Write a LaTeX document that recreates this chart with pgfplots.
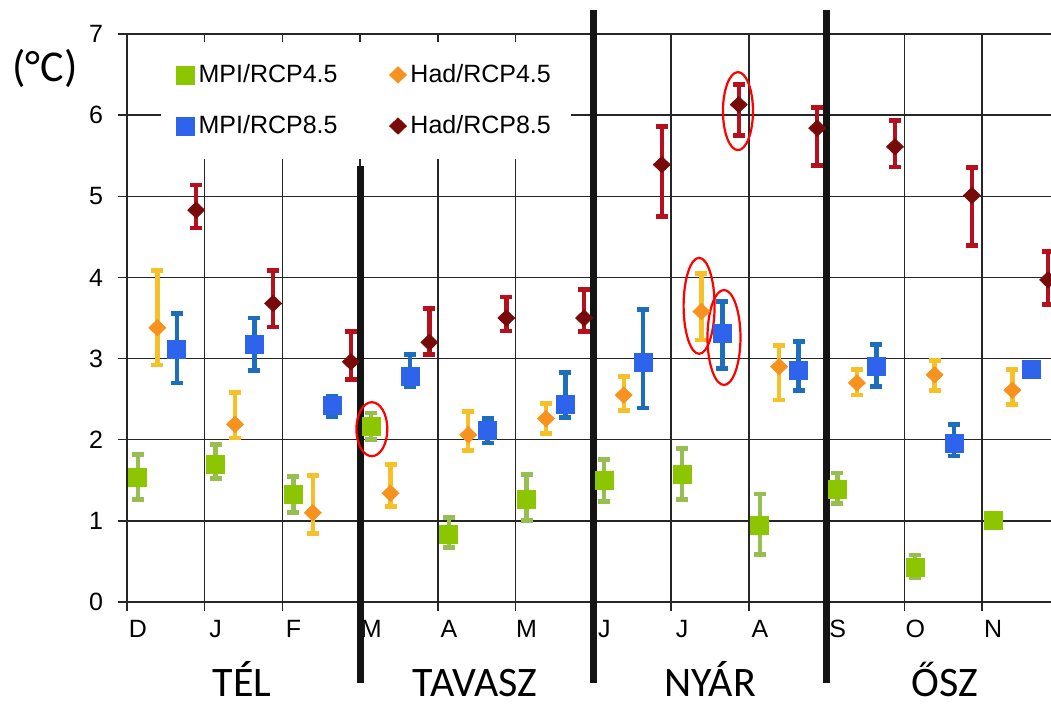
\documentclass[border=0pt]{standalone}
\usepackage{fontspec}
\setmainfont{Liberation Sans}
\newfontfamily\calibri{Carlito}
\usepackage{pgfplots}
\usepackage{pgfplotstable}
\pgfplotsset{compat=1.18}
\usetikzlibrary{calc}

\definecolor{mpiA}{RGB}{140,198,0}
\definecolor{mpiAerr}{RGB}{150,190,80}
\definecolor{hadA}{RGB}{247,146,30}
\definecolor{hadAerr}{RGB}{245,192,40}
\definecolor{mpiB}{RGB}{45,100,235}
\definecolor{mpiBerr}{RGB}{30,110,190}
\definecolor{hadB}{RGB}{120,10,10}
\definecolor{hadBerr}{RGB}{180,16,30}

% month index + offset, value, error up, error down
\pgfplotstableread{
x     y    ep   em
0.14  1.53 0.29 0.27
1.14  1.70 0.24 0.18
2.14  1.32 0.23 0.22
3.14  2.16 0.17 0.16
4.14  0.83 0.21 0.16
5.14  1.27 0.30 0.27
6.14  1.50 0.26 0.26
7.14  1.57 0.32 0.31
8.14  0.95 0.38 0.36
9.14  1.39 0.20 0.18
10.14 0.43 0.15 0.13
11.14 1.01 0.00 0.00
}\tabmpiA

\pgfplotstableread{
x     y    ep   em
0.39  3.38 0.71 0.46
1.39  2.19 0.39 0.17
2.39  1.10 0.46 0.26
3.39  1.34 0.35 0.16
4.39  2.06 0.29 0.19
5.39  2.26 0.19 0.18
6.39  2.55 0.23 0.19
7.39  3.58 0.47 0.35
8.39  2.90 0.26 0.41
9.39  2.70 0.17 0.15
10.39 2.80 0.18 0.19
11.39 2.61 0.26 0.18
}\tabhadA

\pgfplotstableread{
x     y    ep   em
0.64  3.11 0.45 0.41
1.64  3.17 0.33 0.32
2.64  2.42 0.11 0.13
3.64  2.78 0.27 0.12
4.64  2.12 0.14 0.16
5.64  2.44 0.39 0.17
6.64  2.95 0.65 0.56
7.66  3.31 0.39 0.43
8.64  2.86 0.35 0.25
9.64  2.90 0.27 0.24
10.64 1.96 0.23 0.16
11.64 2.87 0.05 0.05
}\tabmpiB

\pgfplotstableread{
x     y    ep   em
0.89  4.83 0.31 0.22
1.88  3.68 0.41 0.29
2.88  2.96 0.37 0.22
3.89  3.20 0.42 0.15
4.88  3.50 0.26 0.16
5.88  3.50 0.35 0.17
6.88  5.39 0.47 0.64
7.87  6.13 0.25 0.38
8.88  5.84 0.25 0.46
9.88  5.61 0.32 0.25
10.87 5.01 0.34 0.62
11.85 3.97 0.35 0.30
}\tabhadB

\begin{document}
\begin{tikzpicture}
\begin{axis}[
    name=ax,
    scale only axis,
    width=462pt, height=284pt,
    xmin=0, xmax=11.887,
    ymin=0, ymax=7,
    clip=false,
    axis lines*=left,
    axis line style={black!85, line width=0.8pt},
    xtick={0,...,11},
    xticklabels={D,J,F,M,A,M,J,J,A,S,O,N},
    ytick={0,...,7},
    grid=major,
    major grid style={black!85, line width=0.75pt},
    tick align=outside,
    major tick length=4.5pt,
    tick style={black!85, line width=0.75pt},
    tick label style={font=\fontsize{12.5}{14}\selectfont},
    xticklabel style={xshift=5.5pt, yshift=-1pt},
    yticklabel style={xshift=-4pt},
    /pgf/number format/assume math mode=true,
    legend columns=2,
    legend cell align=left,
    legend style={at={(rel axis cs:0.036,0.986)}, anchor=north west,
        draw=none, fill=white, inner xsep=8pt, inner ysep=9pt,
        row sep=11pt, font=\fontsize{12.5}{15}\selectfont,
        /tikz/every even column/.append style={column sep=24pt}},
]
\addplot[only marks, mark=square*, mark size=4.5pt, color=mpiA,
    error bars/.cd, y dir=both, y explicit,
    error bar style={color=mpiAerr, line width=2.2pt},
    error mark options={rotate=90, color=mpiAerr, line width=2.4pt, mark size=3pt}]
    table[x=x, y=y, y error plus=ep, y error minus=em] {\tabmpiA};
\addlegendentry{MPI/RCP4.5}
\addplot[only marks, mark=diamond*, mark size=4.5pt, color=hadA,
    mark options={xscale=1.25, yscale=0.9},
    error bars/.cd, y dir=both, y explicit,
    error bar style={color=hadAerr, line width=2.2pt},
    error mark options={rotate=90, color=hadAerr, line width=2.4pt, mark size=3pt}]
    table[x=x, y=y, y error plus=ep, y error minus=em] {\tabhadA};
\addlegendentry{Had/RCP4.5}
\addplot[only marks, mark=square*, mark size=4.5pt, color=mpiB,
    error bars/.cd, y dir=both, y explicit,
    error bar style={color=mpiBerr, line width=2.2pt},
    error mark options={rotate=90, color=mpiBerr, line width=2.4pt, mark size=3pt}]
    table[x=x, y=y, y error plus=ep, y error minus=em] {\tabmpiB};
\addlegendentry{MPI/RCP8.5}
\addplot[only marks, mark=diamond*, mark size=4.5pt, color=hadB,
    mark options={xscale=1.25, yscale=0.9},
    error bars/.cd, y dir=both, y explicit,
    error bar style={color=hadBerr, line width=2.2pt},
    error mark options={rotate=90, color=hadBerr, line width=2.4pt, mark size=3pt}]
    table[x=x, y=y, y error plus=ep, y error minus=em] {\tabhadB};
\addlegendentry{Had/RCP8.5}

% season dividers
\draw[line width=3.5pt, black!92] (axis cs:3,5.37) -- (axis cs:3,-1.0);
\draw[line width=3.5pt, black!92] (axis cs:6,7.29) -- (axis cs:6,-1.0);
\draw[line width=3.5pt, black!92] (axis cs:9,7.29) -- (axis cs:9,-1.0);

% highlighted points
\draw[red, line width=1.1pt] (axis cs:3.15,2.13) ellipse [x radius=7.75pt, y radius=13.5pt];
\draw[red, line width=1.1pt] (axis cs:7.36,3.65) ellipse [x radius=7.75pt, y radius=24pt];
\draw[red, line width=1.1pt] (axis cs:7.68,3.26) ellipse [x radius=8.25pt, y radius=23.75pt];
\draw[red, line width=1.1pt] (axis cs:7.86,6.05) ellipse [x radius=7.5pt, y radius=19.5pt];

% season names and unit
\tikzset{season/.style={font=\calibri\fontsize{21}{25}\selectfont, anchor=base, inner sep=0pt, text depth=0pt}}
\node[season] at (axis cs:1.48,-1.17) {TÉL};
\node[season] at (axis cs:4.48,-1.17) {TAVASZ};
\node[season] at (axis cs:7.50,-1.17) {NYÁR};
\node[season] at (axis cs:10.52,-1.17) {ŐSZ};
\node[font=\calibri\fontsize{22}{26}\selectfont] at (axis cs:-1.055,6.58) {(°C)};
\end{axis}
\pgfresetboundingbox
\path ($(ax.south west)+(-63.5pt,-52.5pt)$) rectangle ($(ax.south west)+(462pt,301pt)$);
\end{tikzpicture}
\end{document}
